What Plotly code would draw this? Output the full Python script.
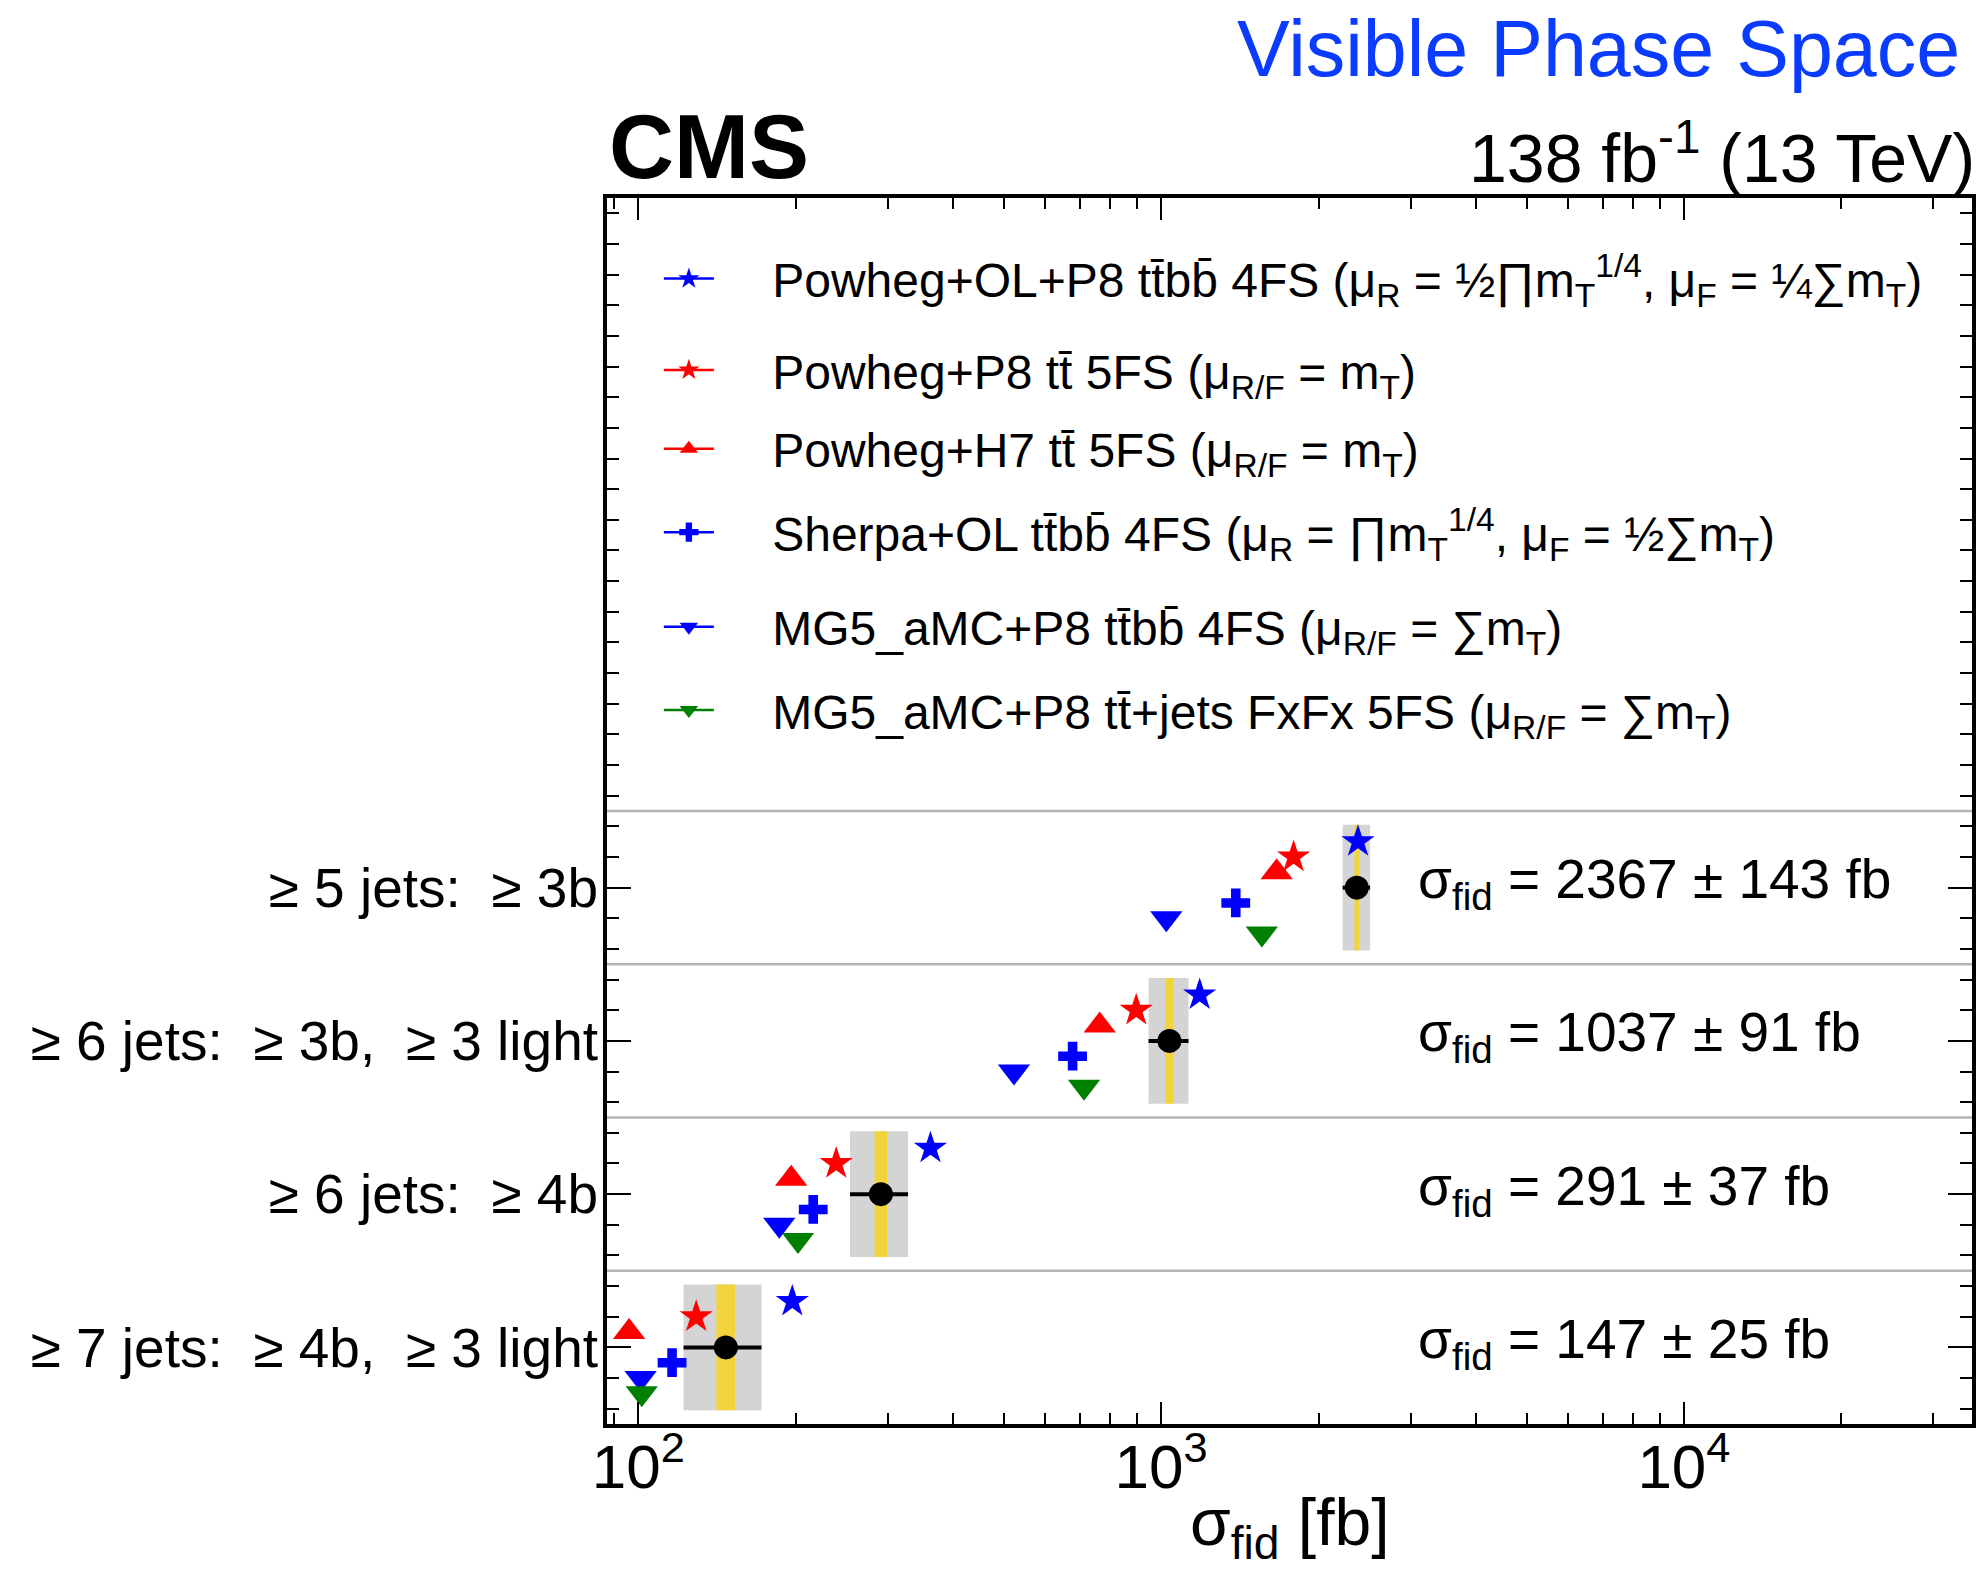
import plotly.graph_objects as go

# ---------------- data ----------------
categories = [
    "\u2265 7 jets:\u00a0\u00a0\u2265 4b,\u00a0\u00a0\u2265 3 light",
    "\u2265 6 jets:\u00a0\u00a0\u2265 4b",
    "\u2265 6 jets:\u00a0\u00a0\u2265 3b,\u00a0\u00a0\u2265 3 light",
    "\u2265 5 jets:\u00a0\u00a0\u2265 3b",
]
measured = [147, 291, 1037, 2367]
total_unc = [25, 37, 91, 143]
stat_unc = [6, 8, 17, 24]

model_names = [
    "Powheg+OL+P8 tt\u0304bb\u0304 4FS (\u03bc<sub>R</sub> = \u00bd\u220fm<sub>T</sub><sup>1/4</sup>, \u03bc<sub>F</sub> = \u00bc\u2211m<sub>T</sub>)",
    "Powheg+P8 tt\u0304 5FS (\u03bc<sub>R/F</sub> = m<sub>T</sub>)",
    "Powheg+H7 tt\u0304 5FS (\u03bc<sub>R/F</sub> = m<sub>T</sub>)",
    "Sherpa+OL tt\u0304bb\u0304 4FS (\u03bc<sub>R</sub> = \u220fm<sub>T</sub><sup>1/4</sup>, \u03bc<sub>F</sub> = \u00bd\u2211m<sub>T</sub>)",
    "MG5_aMC+P8 tt\u0304bb\u0304 4FS (\u03bc<sub>R/F</sub> = \u2211m<sub>T</sub>)",
    "MG5_aMC+P8 tt\u0304+jets FxFx 5FS (\u03bc<sub>R/F</sub> = \u2211m<sub>T</sub>)",
]
powheg_ol_p8_ttbb = [197, 362, 1185, 2380]
powheg_p8_tt = [129, 239, 896, 1792]
powheg_h7_tt = [96, 196, 763, 1663]
sherpa_ol_ttbb = [116, 216, 677, 1389]
mg5_ttbb = [101, 186, 523, 1023]
mg5_fxfx = [101.5, 202, 712, 1558]

x_tick_values = [100, 1000, 10000]
x_tick_labels = ["10<sup>2</sup>", "10<sup>3</sup>", "10<sup>4</sup>"]

model_values = [powheg_ol_p8_ttbb, powheg_p8_tt, powheg_h7_tt,
                sherpa_ol_ttbb, mg5_ttbb, mg5_fxfx]
model_colors = ["#0000ff", "#ff0000", "#ff0000", "#0000ff", "#0000ff", "#008000"]
model_symbols = ["star", "star", "triangle-up", "cross", "triangle-down", "triangle-down"]
model_sizes = [25, 25, 28, 24, 28, 28]
model_offsets = [0.3, 0.2, 0.1, -0.1, -0.2, -0.3]
legend_y = [0.934, 0.8595, 0.7953, 0.7272, 0.6501, 0.5822]

FONT = "Liberation Sans, Arial, Helvetica, sans-serif"
PAD = "\u00a0\u00a0\u00a0\u00a0"

fig = go.Figure()

rows = list(range(len(categories)))

# uncertainty boxes (total: grey, stat: yellow) and row separators
for i, (m, tu, su) in enumerate(zip(measured, total_unc, stat_unc)):
    fig.add_shape(type="rect", xref="x", yref="y", x0=m - tu, x1=m + tu,
                  y0=i - 0.41, y1=i + 0.41, fillcolor="#d4d4d4",
                  line=dict(width=0), layer="below")
    fig.add_shape(type="rect", xref="x", yref="y", x0=m - su, x1=m + su,
                  y0=i - 0.41, y1=i + 0.41, fillcolor="#f1d33c",
                  line=dict(width=0), layer="below")
for i in rows:
    fig.add_shape(type="line", xref="paper", yref="y", x0=0, x1=1,
                  y0=i + 0.5, y1=i + 0.5, line=dict(color="#b4b4b4", width=2.5),
                  layer="below")

# model predictions
for k, (name, vals) in enumerate(zip(model_names, model_values)):
    xs, ys = [], []
    for i, v in enumerate(vals):
        xs += [v, None]
        ys += [i + model_offsets[k], None]
    fig.add_trace(go.Scatter(
        x=xs, y=ys, mode="lines+markers", name=PAD + name, connectgaps=False,
        line=dict(color=model_colors[k], width=2.5),
        marker=dict(symbol=model_symbols[k], size=model_sizes[k],
                    color=model_colors[k], line=dict(width=0)),
        legend="legend" if k == 0 else f"legend{k + 1}",
        showlegend=True,
    ))

# measurement
fig.add_trace(go.Scatter(
    x=measured, y=rows, mode="markers", showlegend=False,
    marker=dict(symbol="circle", size=24, color="black"),
    error_x=dict(type="data", array=total_unc, color="black", thickness=4, width=0),
))

# sigma annotations
for i, (m, tu) in enumerate(zip(measured, total_unc)):
    fig.add_annotation(x=0.5927, xref="paper", y=i + 0.03, yref="y",
                       xanchor="left", yanchor="middle", showarrow=False,
                       text=f"\u03c3<sub>fid</sub> = {m} \u00b1 {tu} fb",
                       font=dict(size=55, color="black", family=FONT))

# header texts
fig.add_annotation(x=0.0, y=1.042, xref="paper", yref="paper", xanchor="left",
                   yanchor="middle", showarrow=False, text="<b>CMS</b>",
                   font=dict(size=90, color="black", family=FONT))
fig.add_annotation(x=1.004, y=1.037, xref="paper", yref="paper", xanchor="right",
                   yanchor="middle", showarrow=False,
                   text="138 fb<sup>-1</sup> (13 TeV)",
                   font=dict(size=68, color="black", family=FONT))
fig.add_annotation(x=0.993, y=1.122, xref="paper", yref="paper", xanchor="right",
                   yanchor="middle", showarrow=False, text="Visible Phase Space",
                   font=dict(size=79, color="#0a3cff", family=FONT))
# x-axis title
fig.add_annotation(x=0.5, y=-0.084, xref="paper", yref="paper", xanchor="center",
                   yanchor="middle", showarrow=False,
                   text="\u03c3<sub>fid</sub> [fb]",
                   font=dict(size=66, color="black", family=FONT))

legend_common = dict(x=0.038, xanchor="left", yanchor="middle",
                     bgcolor="rgba(0,0,0,0)", borderwidth=0,
                     font=dict(size=48, color="black", family=FONT),
                     itemsizing="trace", itemwidth=50)
layout_legends = {}
for k, ly in enumerate(legend_y):
    key = "legend" if k == 0 else f"legend{k + 1}"
    layout_legends[key] = dict(legend_common, y=ly)

fig.update_layout(
    width=1977, height=1571,
    margin=dict(l=607, r=5, t=198, b=147, autoexpand=False),
    paper_bgcolor="white", plot_bgcolor="white",
    font=dict(family=FONT, color="black"),
    xaxis=dict(
        type="log", range=[1.940, 4.551], automargin=False,
        tickmode="array", tickvals=x_tick_values, ticktext=x_tick_labels,
        ticks="inside", ticklen=22, tickwidth=2, tickcolor="black",
        minor=dict(ticks="inside", ticklen=11, tickwidth=2, tickcolor="black",
                   dtick="D1", showgrid=False),
        showline=True, linewidth=4, linecolor="black", mirror="allticks",
        showgrid=False, zeroline=False, ticklabelstandoff=-14,
        tickfont=dict(size=62, family=FONT),
    ),
    yaxis=dict(
        range=[-0.5, 7.5], automargin=False,
        tickmode="array", tickvals=rows, ticktext=categories,
        ticks="inside", ticklen=24, tickwidth=2, tickcolor="black",
        minor=dict(ticks="inside", ticklen=12, tickwidth=2, tickcolor="black",
                   dtick=0.2, tick0=0, showgrid=False),
        showline=True, linewidth=4, linecolor="black", mirror="allticks",
        showgrid=False, zeroline=False, ticklabelstandoff=-6,
        tickfont=dict(size=55, family=FONT),
    ),
    **layout_legends,
)

fig.write_html("out.html")
